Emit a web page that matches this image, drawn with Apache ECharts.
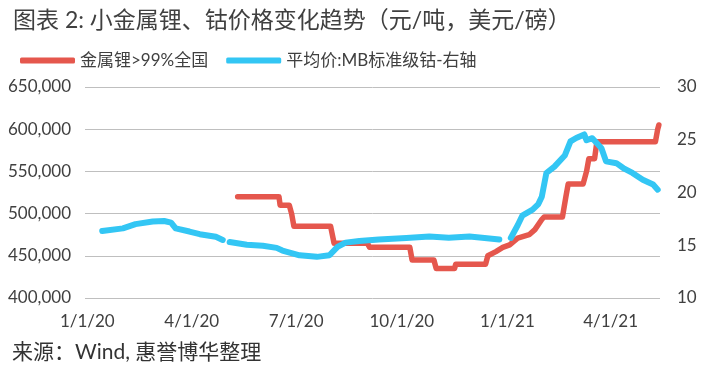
<!DOCTYPE html>
<html>
<head>
<meta charset="utf-8">
<script src="https://cdn.jsdelivr.net/npm/echarts@6/dist/echarts.min.js"></script>
<style>
  html, body { margin: 0; padding: 0; background: #fff; }
  #chart { width: 707px; height: 372px; }
</style>
</head>
<body>
<div id="chart"></div>
<script>
// 金属锂>99%全国 (元/吨, left axis)
const liDates = [
  '2020-05-11','2020-06-16','2020-06-17','2020-06-25','2020-06-27','2020-06-29',
  '2020-07-31','2020-08-03','2020-09-01','2020-09-03','2020-10-08','2020-10-10',
  '2020-10-29','2020-10-31','2020-11-16','2020-11-17','2020-12-13','2020-12-15',
  '2020-12-22','2020-12-28','2021-01-03','2021-01-10','2021-01-20','2021-01-25',
  '2021-01-31','2021-02-02','2021-02-18','2021-02-21','2021-02-23','2021-03-08',
  '2021-03-11','2021-03-13','2021-03-18','2021-03-20','2021-05-10','2021-05-12',
  '2021-05-13'
];
const liValues = [
  520000, 520000, 510000, 510000, 500000, 485000,
  485000, 465000, 465000, 460000, 460000, 445000,
  445000, 435000, 435000, 440000, 440000, 450000,
  455000, 460000, 463000, 471000, 475000, 481000,
  493000, 496000, 496000, 520000, 535000, 535000,
  550000, 565000, 565000, 585000, 585000, 600000,
  605000
];

// 平均价:MB标准级钴 (美元/磅, right axis); null = gap in the line
const coDates = [
  '2020-01-14','2020-02-01','2020-02-12','2020-02-27','2020-03-08','2020-03-14',
  '2020-03-18','2020-03-30','2020-04-08','2020-04-22','2020-04-28','2020-04-30',
  '2020-05-04','2020-05-19','2020-06-02','2020-06-14','2020-06-19','2020-07-04',
  '2020-07-19','2020-07-30','2020-08-06','2020-08-13','2020-08-25','2020-09-11',
  '2020-10-05','2020-10-25','2020-11-11','2020-11-29','2020-12-10','2020-12-25',
  '2020-12-31','2021-01-04','2021-01-10','2021-01-14','2021-01-23','2021-01-28',
  '2021-01-31','2021-02-04','2021-02-11','2021-02-20','2021-02-25','2021-03-02',
  '2021-03-09','2021-03-11','2021-03-16','2021-03-24','2021-03-28','2021-04-06',
  '2021-04-12','2021-04-20','2021-04-29','2021-05-08','2021-05-12'
];
const coValues = [
  16.35, 16.6, 17.0, 17.25, 17.3, 17.15,
  16.6, 16.3, 16.05, 15.8, 15.5, null,
  15.3, 15.05, 14.95, 14.75, 14.5, 14.05,
  13.9, 14.05, 14.85, 15.25, 15.4, 15.55,
  15.69, 15.82, 15.72, 15.82, 15.72, 15.55,
  null, 15.69, 16.9, 17.8, 18.37, 18.9,
  19.6, 21.85, 22.45, 23.5, 24.84, 25.17,
  25.5, 24.95, 25.15, 24.2, 22.95, 22.78,
  22.32, 21.85, 21.2, 20.75, 20.27
];

const leftTicks = { min: 400000, max: 650000, interval: 50000 };
const rightTicks = { min: 10, max: 30, interval: 5 };
const xRange = { min: '2019-12-30', max: '2021-05-14' };

const FONT = 'Lato, "Noto Sans CJK SC", sans-serif';
const chart = echarts.init(document.getElementById('chart'), null, { renderer: 'canvas' });

const fmtNum = v => String(v).replace(/\B(?=(\d{3})+(?!\d))/g, ',');
const fmtDate = v => {
  const d = new Date(v);
  return (d.getMonth() + 1) + '/' + d.getDate() + '/' + String(d.getFullYear()).slice(2);
};

chart.setOption({
  animation: false,
  backgroundColor: '#ffffff',
  title: [
    {
      text: '图表 2: 小金属锂、钴价格变化趋势（元/吨，美元/磅）',
      left: 13, top: 9, padding: 0,
      textStyle: { fontFamily: FONT, fontSize: 23, fontWeight: 'normal', color: '#404040' }
    },
    {
      text: '来源：Wind, 惠誉博华整理',
      left: 12, top: 342, padding: 0,
      textStyle: { fontFamily: FONT, fontSize: 21, fontWeight: 'normal', color: '#333333' }
    }
  ],
  legend: {
    left: 20, top: 52, padding: 0,
    itemWidth: 55, itemHeight: 6, itemGap: 18,
    icon: 'roundRect',
    textStyle: { fontFamily: FONT, fontSize: 17, color: '#404040' },
    data: ['金属锂>99%全国', '平均价:MB标准级钴-右轴']
  },
  grid: { left: 85, right: 47, top: 87, bottom: 74, containLabel: false },
  xAxis: {
    type: 'time',
    min: xRange.min, max: xRange.max,
    splitNumber: 5,
    axisLine: { show: false },
    axisTick: { show: false },
    splitLine: { show: false },
    axisLabel: {
      fontFamily: FONT, fontSize: 17, color: '#404040', margin: 15,
      formatter: fmtDate, showMinLabel: false, showMaxLabel: false
    }
  },
  yAxis: [
    {
      type: 'value', position: 'left',
      min: leftTicks.min, max: leftTicks.max, interval: leftTicks.interval,
      axisLine: { show: false }, axisTick: { show: false },
      splitLine: { lineStyle: { color: '#BFBFBF', width: 1 } },
      axisLabel: { fontFamily: FONT, fontSize: 17, color: '#404040', margin: 14, formatter: fmtNum }
    },
    {
      type: 'value', position: 'right',
      min: rightTicks.min, max: rightTicks.max, interval: rightTicks.interval,
      axisLine: { show: false }, axisTick: { show: false },
      splitLine: { show: false },
      axisLabel: { fontFamily: FONT, fontSize: 17, color: '#404040', margin: 17 }
    }
  ],
  series: [
    {
      name: '金属锂>99%全国', type: 'line', yAxisIndex: 0,
      showSymbol: false, symbol: 'none',
      lineStyle: { color: '#E5574D', width: 5.5, cap: 'round', join: 'round' },
      itemStyle: { color: '#E5574D' },
      data: liDates.map((d, i) => [d, liValues[i]]),
      z: 2
    },
    {
      name: '平均价:MB标准级钴-右轴', type: 'line', yAxisIndex: 1,
      showSymbol: false, symbol: 'none', connectNulls: false,
      lineStyle: { color: '#33C6F4', width: 6, cap: 'round', join: 'round' },
      itemStyle: { color: '#33C6F4' },
      data: coDates.map((d, i) => [d, coValues[i]]),
      z: 3
    }
  ]
});
</script>
</body>
</html>
